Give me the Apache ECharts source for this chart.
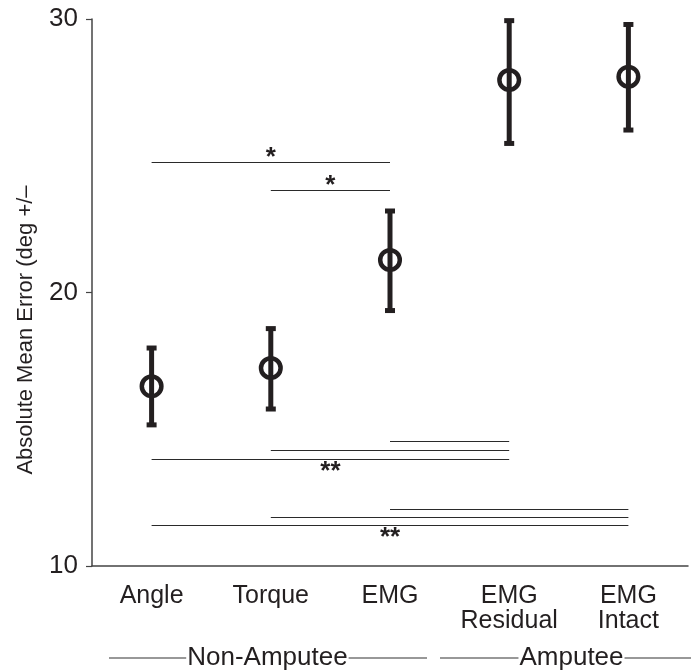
<!DOCTYPE html>
<html>
<head>
<meta charset="utf-8">
<script src="https://cdn.jsdelivr.net/npm/echarts@6/dist/echarts.min.js"></script>
<style>
html,body{margin:0;padding:0;background:#fff;}
#chart{width:691px;height:670px;}
</style>
</head>
<body>
<div id="chart"></div>
<script>
// ---- data ----
var categories = ['Angle', 'Torque', 'EMG', 'EMG\nResidual', 'EMG\nIntact'];
var means = [16.57, 17.24, 21.19, 27.77, 27.89];
var lows  = [15.16, 15.74, 19.34, 25.45, 25.94];
var highs = [17.97, 18.68, 22.98, 29.94, 29.80];
var yTicks = [10, 20, 30];
var yAxisTitle = 'Absolute Mean Error (deg +/\u2013';
// significance brackets
var sigStart = [0, 1, 2, 1, 0, 2, 1, 0];
var sigEnd   = [2, 2, 3, 3, 3, 4, 4, 4];
var sigLevel = [24.76, 23.75, 14.56, 14.24, 13.92, 12.09, 11.78, 11.49];
var sigText  = ['*', '*', '', '', '**', '', '', '**'];
var sigAbove = [true, true, false, false, false, false, false, false];
var groupNames = ['Non-Amputee', 'Amputee'];

var FONT = '"Liberation Sans", Arial, Helvetica, sans-serif';
var INK = '#231f20';

var chart = echarts.init(document.getElementById('chart'), null, {renderer: 'canvas'});

var errData = categories.map(function (c, i) { return [i, means[i], lows[i], highs[i]]; });

var markData = sigStart.map(function (s, i) {
  return [
    {coord: [s, sigLevel[i]],
     label: {show: sigText[i] !== '', formatter: sigText[i],
             position: sigAbove[i] ? 'insideMiddleTop' : 'insideMiddleBottom',
             distance: sigAbove[i] ? -9 : 0}},
    {coord: [sigEnd[i], sigLevel[i]]}
  ];
});

function measure(text, size) {
  var cv = document.createElement('canvas').getContext('2d');
  cv.font = size + 'px ' + FONT;
  return cv.measureText(text).width;
}

var gFont = 26, gY = 658;
var groups = [
  {name: groupNames[0], cx: 267.4, x0: 109, x1: 427},
  {name: groupNames[1], cx: 571.5, x0: 440, x1: 691}
];
var graphics = [{
  type: 'text', x: 26, y: 330, rotation: Math.PI / 2,
  style: {text: yAxisTitle, font: '22px ' + FONT, fill: INK, align: 'center', verticalAlign: 'middle'}
}];
groups.forEach(function (g) {
  var w = measure(g.name, gFont);
  graphics.push({type: 'text', x: g.cx, y: gY,
    style: {text: g.name, font: gFont + 'px ' + FONT, fill: INK, align: 'center', verticalAlign: 'middle'}});
  graphics.push({type: 'line', shape: {x1: g.x0, y1: gY, x2: g.cx - w / 2 - 1, y2: gY},
    style: {stroke: '#333', lineWidth: 1.2}});
  graphics.push({type: 'line', shape: {x1: g.cx + w / 2 + 1, y1: gY, x2: g.x1, y2: gY},
    style: {stroke: '#333', lineWidth: 1.2}});
});

var option = {
  animation: false,
  backgroundColor: '#fff',
  grid: {left: 92, right: 3, top: 19, bottom: 104, containLabel: false},
  xAxis: {
    type: 'category',
    data: categories,
    boundaryGap: true,
    axisLine: {lineStyle: {color: '#444', width: 1.5}},
    axisTick: {alignWithLabel: true, length: 5, lineStyle: {color: '#444', width: 1.2}},
    axisLabel: {color: INK, fontFamily: FONT, fontSize: 25, lineHeight: 25, margin: 18, interval: 0}
  },
  yAxis: {
    type: 'value',
    min: yTicks[0], max: yTicks[yTicks.length - 1], interval: yTicks[1] - yTicks[0],
    axisLine: {show: true, lineStyle: {color: '#444', width: 1.5}},
    axisTick: {show: true, length: 6, lineStyle: {color: '#444', width: 1.2}},
    axisLabel: {color: INK, fontFamily: FONT, fontSize: 26, margin: 14},
    splitLine: {show: false}
  },
  graphic: graphics,
  series: [
    {
      type: 'custom',
      data: errData,
      renderItem: function (params, api) {
        var i = api.value(0);
        var c = api.coord([i, api.value(1)]);
        var lo = api.coord([i, api.value(2)]);
        var hi = api.coord([i, api.value(3)]);
        var capW = 10, capH = 5;
        return {
          type: 'group',
          children: [
            {type: 'line', shape: {x1: hi[0], y1: hi[1], x2: lo[0], y2: lo[1]},
             style: {stroke: INK, lineWidth: 5}},
            {type: 'rect', shape: {x: hi[0] - capW / 2, y: hi[1] - capH / 2, width: capW, height: capH},
             style: {fill: INK}},
            {type: 'rect', shape: {x: lo[0] - capW / 2, y: lo[1] - capH / 2, width: capW, height: capH},
             style: {fill: INK}},
            {type: 'circle', shape: {cx: c[0], cy: c[1], r: 9.8},
             style: {fill: 'none', stroke: INK, lineWidth: 4.5}}
          ]
        };
      },
      z: 3
    },
    {
      type: 'scatter',
      data: errData.map(function (d) { return [d[0], d[1]]; }),
      symbolSize: 0,
      silent: true,
      markLine: {
        silent: true,
        symbol: ['none', 'none'],
        lineStyle: {type: 'solid', color: '#2a2a2a', width: 1},
        label: {color: INK, fontFamily: FONT, fontSize: 26, fontWeight: 'bold'},
        data: markData
      }
    }
  ]
};
chart.setOption(option);
</script>
</body>
</html>
